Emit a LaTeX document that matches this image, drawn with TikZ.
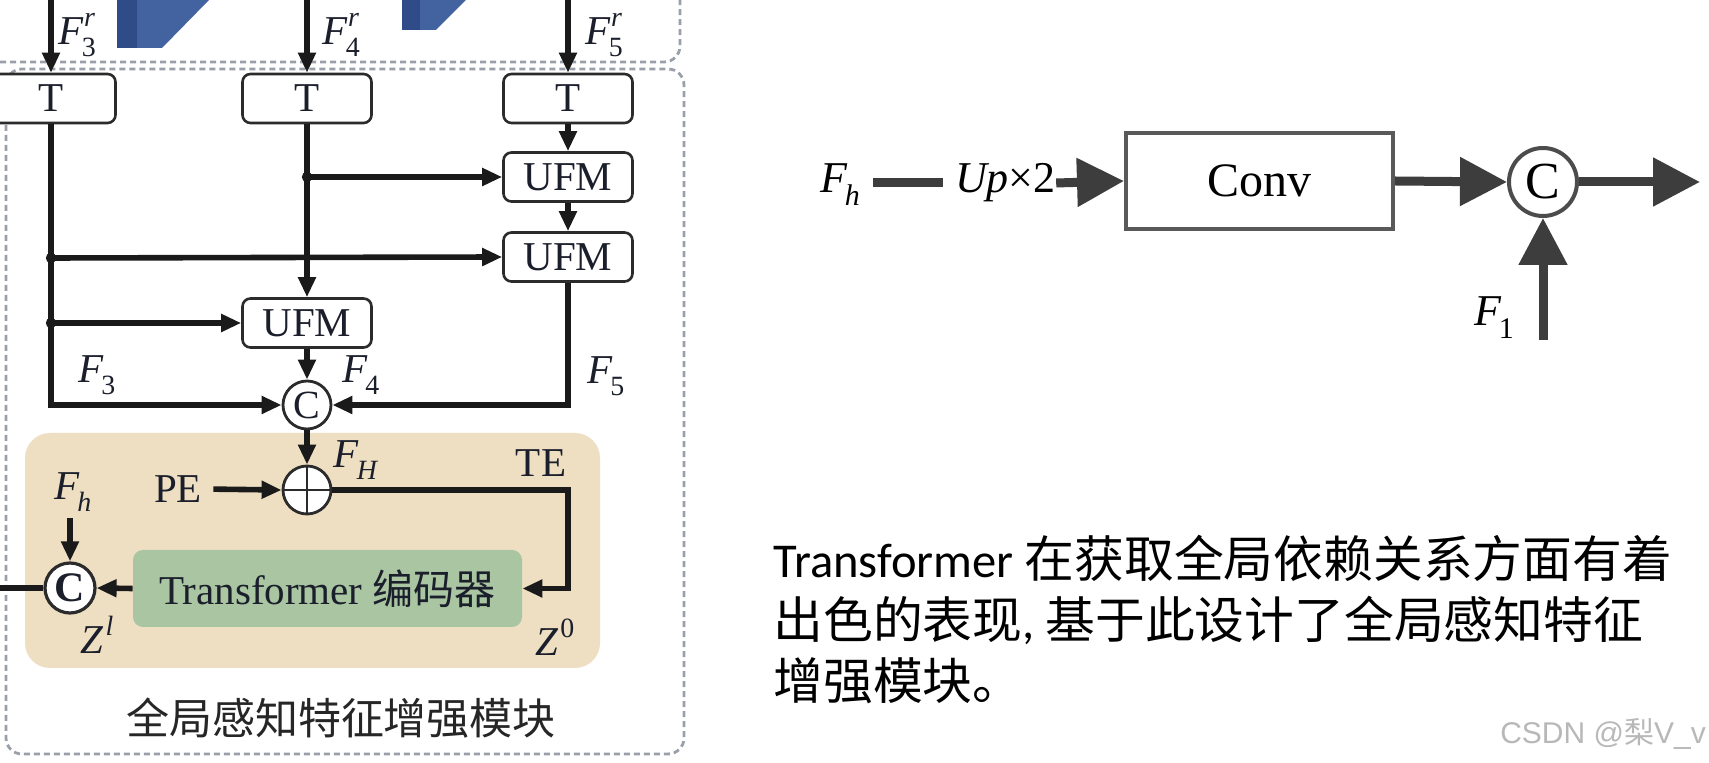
\documentclass[tikz,border=0pt]{standalone}
\usepackage{fontspec}
\usepackage{graphicx}
\setmainfont{Liberation Serif}
\newfontfamily\cjk{Noto Sans CJK SC}
\newfontfamily\calib{Carlito}
\newfontfamily\wmfont{Liberation Sans}
\usetikzlibrary{arrows.meta,calc}
\definecolor{lc}{HTML}{1A1A1A}
\definecolor{bc}{HTML}{2B2B2B}
\definecolor{txt}{HTML}{1B1E2B}
\definecolor{beige}{HTML}{EEDFC2}
\definecolor{greenbox}{HTML}{A9C5A1}
\definecolor{blueA}{HTML}{4362A0}
\definecolor{blueB}{HTML}{2F4C88}
\definecolor{rc}{HTML}{3D3D3D}
\definecolor{dashc}{HTML}{9AA0AA}
\newcommand\Fss[3]{\textit{#1}\kern-0.06em\rlap{\raisebox{-0.3em}{\scalebox{0.68}{#2}}}\kern0.06em\raisebox{0.45em}{\scalebox{0.68}{\textit{#3}}}}
\newcommand\Fsb[2]{\textit{#1}\kern-0.06em\raisebox{-0.3em}{\scalebox{0.68}{#2}}}
\newcommand\Fsp[2]{\textit{#1}\kern0.04em\raisebox{0.45em}{\scalebox{0.68}{#2}}}
\begin{document}
\begin{tikzpicture}[x=0.5pt,y=-0.5pt,
  lbl/.style={font=\fontsize{20.5}{24}\selectfont, text=txt, inner sep=0pt},
  box/.style={draw=bc, line width=1.3pt, rounded corners=4pt, fill=white, minimum width=64.5pt, minimum height=24.5pt, inner sep=0pt, font=\fontsize{20.5}{24}\selectfont, text=txt},
  circ/.style={circle, draw=bc, line width=1.4pt, fill=white, minimum size=24pt, inner sep=0pt, font=\fontsize{20}{24}\selectfont, text=txt},
  larr/.style={draw=lc, line width=2.8pt, -{Triangle[length=10pt,width=8.5pt]}},
  lline/.style={draw=lc, line width=2.8pt},
  dot/.style={circle, fill=lc, minimum size=5.2pt, inner sep=0pt},
  dashline/.style={draw=dashc, line width=1.4pt, dash pattern=on 3pt off 2pt},
  rlbl/.style={font=\fontsize{22}{26}\selectfont, text=black, inner sep=0pt},
  rline/.style={draw=rc, line width=4.5pt},
  rarr/.style={rline, -{Triangle[length=23.5pt,width=23.5pt]}},
  rtxt/.style={anchor=base west, inner sep=0pt, font=\fontsize{24.3}{31}\selectfont, text=black}]
\useasboundingbox (0,0) rectangle (1709,763);
\fill[white] (0,0) rectangle (1709,763);

% blue blocks at top
\fill[blueA] (117,0) -- (209,0) -- (162,48) -- (117,48) -- cycle;
\fill[blueB] (117,0) rectangle (137,48);
\fill[blueA] (402,0) -- (466,0) -- (436,30) -- (402,30) -- cycle;
\fill[blueB] (402,0) rectangle (420,30);

% dashed module borders
\draw[dashline, rounded corners=8pt] (-10,62) -- (680,62) -- (680,-10);
\draw[dashline, rounded corners=8pt] (6,69) rectangle (684,754);

% beige and green panels
\fill[beige, rounded corners=12.5pt] (25,433) rectangle (600,668);
\node[fill=greenbox, rounded corners=5pt, minimum width=194.5pt, minimum height=38.5pt, inner sep=0pt,
      font=\fontsize{20.5}{24}\selectfont, text=txt] (G) at (327.5,588.5) {Transformer {\cjk 编码器}};

% nodes
\node[box] (T1) at (51,98.5) {T};
\node[box] (T2) at (307,98.5) {T};
\node[box] (T3) at (568,98.5) {T};
\node[box] (U1) at (568,177) {UFM};
\node[box] (U2) at (568,257) {UFM};
\node[box] (U3) at (307,323) {UFM};
\node[circ] (C1) at (307,405) {C};
\node[circ] (P) at (307,490) {};
\node[circ, minimum size=25pt, line width=1.6pt, font=\fontsize{21}{24}\bfseries] (C2) at (70,588) {C};

\coordinate (s3) at (51,-5);
\coordinate (s4) at (307,-5);
\coordinate (s5) at (568,-5);
\draw[larr] (s3) -- (T1.north);
\draw[larr] (s4) -- (T2.north);
\draw[larr] (s5) -- (T3.north);

\draw[larr] (T3.south) -- (U1.north);
\draw[larr] (U1.south) -- (U2.north);
\draw[larr] (T2.south) -- (U3.north);
\draw[larr] (T1.south) |- (C1.west);
\draw[larr] (U2.south) |- (C1.east);
\draw[larr] (U3.south) -- (C1.north);
\draw[larr] (C1.south) -- (P.north);

\node[dot] (d1) at (307,177) {};
\node[dot] (d2) at (51,258) {};
\node[dot] (d3) at (51,323) {};
\draw[larr] (d1.center) -- (U1.west);
\draw[larr] (d2.center) -- (U2.west);
\draw[larr] (d3.center) -- (U3.west);

% plus sign
\draw[draw=bc, line width=1pt] (P.north) -- (P.south);
\draw[draw=bc, line width=1pt] (P.west) -- (P.east);

% PE and TE path
\node[lbl] (PE) at (178,489) {PE};
\draw[larr, shorten <=5.5pt] (PE.east) -- (P.west);
\coordinate (te) at (568,490);
\draw[larr] (P.east) -- (te) |- (G.east);
\draw[larr] (G.west) -- (C2.east);

\node[lbl] (Fh) at (73,492) {\Fsb{F}{\textit{h}}};
\draw[larr, shorten <=3pt] (Fh.south -| C2.north) -- (C2.north);
\coordinate (outL) at (-5,588);
\draw[lline] (C2.west) -- (outL);

% labels
\node[lbl] (lF3r) at (77,35) {\Fss{F}{3}{r}};
\node[lbl] (lF4r) at (341,35) {\Fss{F}{4}{r}};
\node[lbl] (lF5r) at (604,35) {\Fss{F}{5}{r}};
\node[lbl] (lF3) at (97,375) {\Fsb{F}{3}};
\node[lbl] (lF4) at (361,375) {\Fsb{F}{4}};
\node[lbl] (lF5) at (606,376) {\Fsb{F}{5}};
\node[lbl] (lFH) at (356,460) {\Fsb{F}{\textit{H}}};
\node[lbl] (lTE) at (541,463) {TE};
\node[lbl] (lZ0) at (555,637) {\Fsp{Z}{0}};
\node[lbl] (lZl) at (97,635) {\Fsp{Z}{\textit{l}}};
\node[font=\cjk\fontsize{21.5}{25}\selectfont, text=black!85] (cap) at (341,718) {全局感知特征增强模块};

% right diagram
\node[rlbl] (rFh) at (840,185) {\Fsb{F}{\textit{h}}};
\node[rlbl] (up) at (1005.5,183) {\textit{Up}×2};
\node[draw=black!65, line width=2pt, fill=white, minimum width=133.5pt, minimum height=48pt, inner sep=0pt,
      font=\fontsize{24}{28}\selectfont] (conv) at (1259.5,181) {Conv};
\node[circle, draw=black!70, line width=2pt, fill=white, minimum size=34pt, inner sep=0pt,
      font=\fontsize{26}{30}\selectfont] (rC) at (1543,182) {C};
\coordinate (rout) at (1700,182);
\node[rlbl] (rF1) at (1494,318) {\Fsb{F}{1}};
\coordinate (rin) at (1543,340);
\draw[rline, shorten <=6.5pt, shorten >=6pt] (rFh.east |- up.west) -- (up.west);
\draw[rarr] (up.east) -- (conv.west);
\draw[rarr] (conv.east) -- (rC.west);
\draw[rarr] (rC.east) -- (rout);
\draw[rarr] (rin) -- (rC.south);

% text block
\node[rtxt] (tx1) at (773,578) {{\calib Transformer }{\cjk\fontsize{24.9}{31}\selectfont 在获取全局依赖关系方面有着}};
\node[rtxt] (tx2) at (773,639) {{\cjk\fontsize{24.9}{31}\selectfont 出色的表现}{\calib , }{\cjk\fontsize{24.9}{31}\selectfont 基于此设计了全局感知特征}};
\node[rtxt] (tx3) at (773,700) {{\cjk\fontsize{24.9}{31}\selectfont 增强模块。}};

\node[font=\wmfont\fontsize{15}{18}\selectfont, text=black!28, inner sep=0pt] (wm) at (1603,734) {CSDN @{\cjk 梨}V\_v};
\end{tikzpicture}
\end{document}
